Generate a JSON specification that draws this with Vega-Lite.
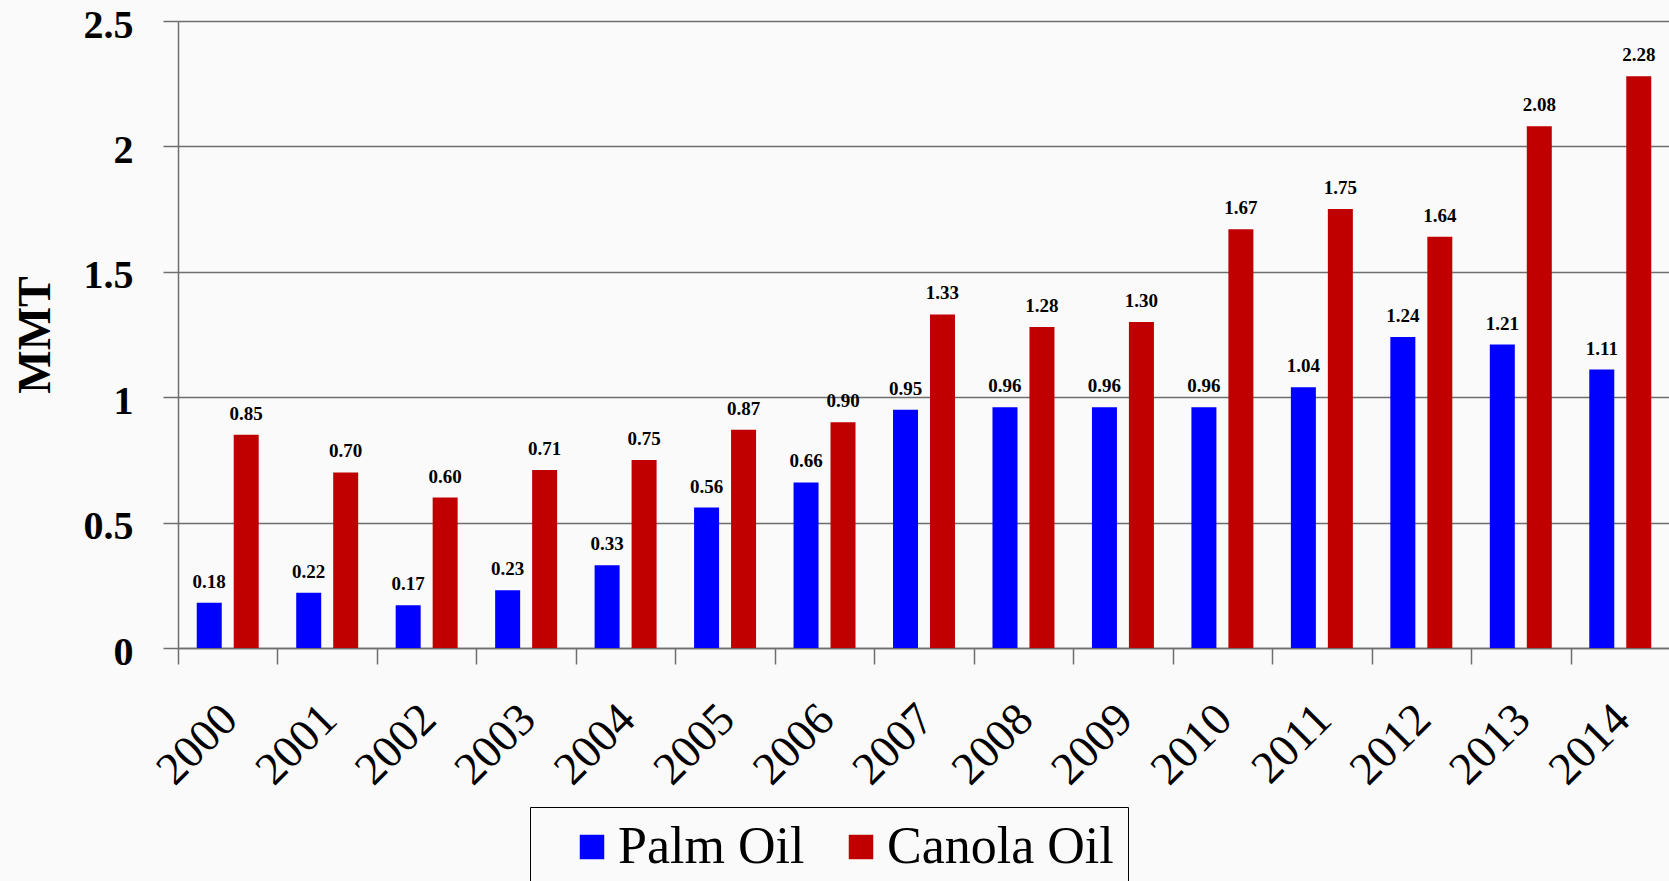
{
  "$schema": "https://vega.github.io/schema/vega-lite/v6.json",
  "width": 1492,
  "height": 627,
  "autosize": {"type": "none"},
  "padding": {"left": 178, "top": 21, "right": 0, "bottom": 233},
  "background": "#fafafa",
  "config": {
    "view": {"stroke": null},
    "font": "Liberation Serif",
    "legend": {"strokeColor": "#000000"}
  },
  "data": {
    "values": [
      {"year": "2000", "series": "Palm Oil", "value": 0.18},
      {"year": "2000", "series": "Canola Oil", "value": 0.85},
      {"year": "2001", "series": "Palm Oil", "value": 0.22},
      {"year": "2001", "series": "Canola Oil", "value": 0.70},
      {"year": "2002", "series": "Palm Oil", "value": 0.17},
      {"year": "2002", "series": "Canola Oil", "value": 0.60},
      {"year": "2003", "series": "Palm Oil", "value": 0.23},
      {"year": "2003", "series": "Canola Oil", "value": 0.71},
      {"year": "2004", "series": "Palm Oil", "value": 0.33},
      {"year": "2004", "series": "Canola Oil", "value": 0.75},
      {"year": "2005", "series": "Palm Oil", "value": 0.56},
      {"year": "2005", "series": "Canola Oil", "value": 0.87},
      {"year": "2006", "series": "Palm Oil", "value": 0.66},
      {"year": "2006", "series": "Canola Oil", "value": 0.90},
      {"year": "2007", "series": "Palm Oil", "value": 0.95},
      {"year": "2007", "series": "Canola Oil", "value": 1.33},
      {"year": "2008", "series": "Palm Oil", "value": 0.96},
      {"year": "2008", "series": "Canola Oil", "value": 1.28},
      {"year": "2009", "series": "Palm Oil", "value": 0.96},
      {"year": "2009", "series": "Canola Oil", "value": 1.30},
      {"year": "2010", "series": "Palm Oil", "value": 0.96},
      {"year": "2010", "series": "Canola Oil", "value": 1.67},
      {"year": "2011", "series": "Palm Oil", "value": 1.04},
      {"year": "2011", "series": "Canola Oil", "value": 1.75},
      {"year": "2012", "series": "Palm Oil", "value": 1.24},
      {"year": "2012", "series": "Canola Oil", "value": 1.64},
      {"year": "2013", "series": "Palm Oil", "value": 1.21},
      {"year": "2013", "series": "Canola Oil", "value": 2.08},
      {"year": "2014", "series": "Palm Oil", "value": 1.11},
      {"year": "2014", "series": "Canola Oil", "value": 2.28}
    ]
  },
  "encoding": {
    "x": {
      "field": "year",
      "type": "nominal",
      "scale": {"paddingInner": 0, "paddingOuter": 0},
      "axis": {
        "title": null,
        "domainColor": "#6e6e6e",
        "domainWidth": 1.5,
        "tickColor": "#6e6e6e",
        "tickWidth": 1.5,
        "tickSize": 16,
        "tickBand": "extent",
        "labelAngle": -45,
        "labelFont": "Liberation Serif",
        "labelFontSize": 46,
        "labelFontWeight": "normal",
        "labelColor": "#000000",
        "labelPadding": 32,
        "labelOffset": -14
      }
    },
    "xOffset": {
      "field": "series",
      "type": "nominal",
      "sort": ["Palm Oil", "Canola Oil"],
      "scale": {"paddingInner": 0.324, "paddingOuter": 0.507}
    },
    "y": {
      "field": "value",
      "type": "quantitative",
      "scale": {"domain": [0, 2.5], "nice": false},
      "axis": {
        "title": "MMT",
        "titleFont": "Liberation Serif",
        "titleFontSize": 46,
        "titleFontWeight": "bold",
        "titleColor": "#000000",
        "titleAngle": -90,
        "titleX": -143,
        "titleY": 313.5,
        "titleAlign": "center",
        "titleBaseline": "middle",
        "values": [0, 0.5, 1, 1.5, 2, 2.5],
        "labelExpr": "'' + datum.value",
        "labelFont": "Liberation Serif",
        "labelFontSize": 40,
        "labelFontWeight": "bold",
        "labelColor": "#000000",
        "labelPadding": 30,
        "labelOffset": 4,
        "tickSize": 15,
        "tickColor": "#6e6e6e",
        "tickWidth": 1.5,
        "domainColor": "#6e6e6e",
        "domainWidth": 1.5,
        "grid": true,
        "gridColor": "#6e6e6e",
        "gridWidth": 1.5
      }
    }
  },
  "layer": [
    {
      "mark": {"type": "bar"},
      "encoding": {
        "color": {
          "field": "series",
          "type": "nominal",
          "sort": ["Palm Oil", "Canola Oil"],
          "scale": {"domain": ["Palm Oil", "Canola Oil"], "range": ["#0000ff", "#c00000"]},
          "legend": {
            "title": " ",
            "titleOrient": "left",
            "titleFontSize": 1,
            "titlePadding": 22,
            "orient": "none",
            "legendX": 352,
            "legendY": 786,
            "direction": "horizontal",
            "strokeColor": "#000000",
            "padding": 14,
            "symbolType": "square",
            "symbolSize": 600,
            "symbolStrokeWidth": 0,
            "labelFont": "Liberation Serif",
            "labelFontSize": 52,
            "labelColor": "#000000",
            "labelOffset": 0,
            "columnPadding": 30,
            "labelLimit": 400
          }
        }
      }
    },
    {
      "mark": {
        "type": "text",
        "baseline": "alphabetic",
        "dy": -15,
        "font": "Liberation Serif",
        "fontSize": 19,
        "fontWeight": "bold",
        "color": "#000000"
      },
      "encoding": {
        "text": {"field": "value", "type": "quantitative", "format": ".2f"}
      }
    }
  ]
}
